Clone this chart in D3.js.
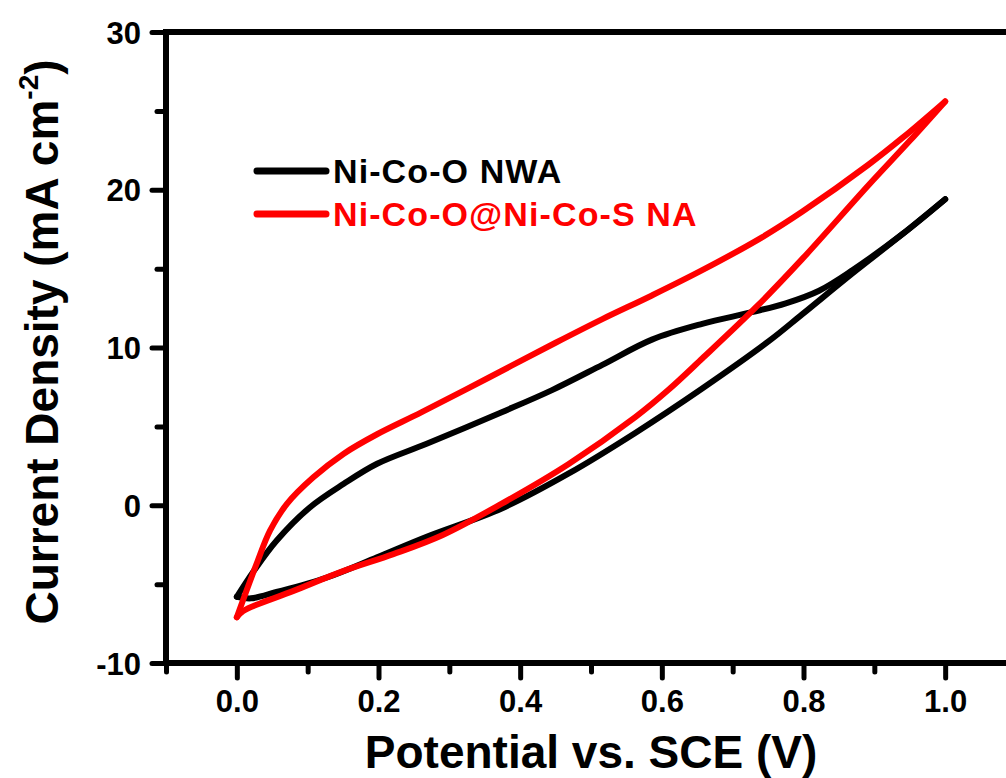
<!DOCTYPE html>
<html>
<head>
<meta charset="utf-8">
<script src="https://cdn.jsdelivr.net/npm/d3@7"></script>
<style>
  html, body { margin: 0; padding: 0; background: #fff; }
  svg text { font-family: "Liberation Sans", Arial, sans-serif; font-weight: bold; }
</style>
</head>
<body>
<svg id="chart" width="1006" height="778"></svg>
<script>
// ---- Data (Potential V, Current density mA cm^-2) ----
const seriesNames = ["Ni-Co-O NWA", "Ni-Co-O@Ni-Co-S NA"];
const seriesColors = ["#000000", "#ff0000"];

// Ni-Co-O NWA: forward (upper) branch
const nwaUpper = [
  [0.0, -5.8], [0.024, -4.16], [0.056, -2.25], [0.103, -0.14], [0.151, 1.36],
  [0.198, 2.63], [0.268, 3.9], [0.374, 5.9], [0.445, 7.3], [0.516, 8.9],
  [0.586, 10.5], [0.657, 11.5], [0.727, 12.24], [0.775, 12.8], [0.822, 13.6],
  [0.869, 14.9], [0.94, 17.2], [1.0, 19.4]
];
// Ni-Co-O NWA: reverse (lower) branch
const nwaLower = [
  [0.0, -5.8], [0.02, -5.9], [0.056, -5.5], [0.127, -4.58], [0.198, -3.3],
  [0.268, -2.0], [0.374, -0.2], [0.468, 2.0], [0.563, 4.6], [0.657, 7.4],
  [0.751, 10.4], [0.798, 12.1], [0.869, 14.7], [0.94, 17.2], [1.0, 19.4]
];
// Ni-Co-O@Ni-Co-S NA: forward (upper) branch
const naUpper = [
  [0.0, -7.1], [0.028, -3.7], [0.047, -1.6], [0.071, 0.1], [0.108, 1.77],
  [0.151, 3.27], [0.198, 4.5], [0.261, 5.9], [0.356, 8.1], [0.45, 10.3],
  [0.516, 11.8], [0.586, 13.3], [0.657, 14.9], [0.742, 17.0], [0.798, 18.6],
  [0.892, 21.6], [0.94, 23.3], [1.0, 25.6]
];
// Ni-Co-O@Ni-Co-S NA: reverse (lower) branch
const naLower = [
  [0.0, -7.1], [0.009, -6.7], [0.08, -5.43], [0.151, -4.16], [0.221, -3.1],
  [0.29, -1.9], [0.374, 0.1], [0.468, 2.6], [0.563, 5.6], [0.609, 7.3],
  [0.657, 9.3], [0.734, 12.6], [0.798, 15.6], [0.892, 20.3], [0.95, 23.1],
  [1.0, 25.6]
];

const xMajorTicks = [0.0, 0.2, 0.4, 0.6, 0.8, 1.0];
const xMinorTicks = [-0.1, 0.1, 0.3, 0.5, 0.7, 0.9, 1.1];
const yMajorTicks = [-10, 0, 10, 20, 30];
const yMinorTicks = [-5, 5, 15, 25];

// ---- Layout ----
const svg = d3.select("#chart");
const mLeft = 166, mRight = 1016, mTop = 32, mBottom = 663;

const x = d3.scaleLinear().domain([-0.1, 1.1]).range([mLeft, mRight]);
const y = d3.scaleLinear().domain([-10, 30]).range([mBottom, mTop]);

const axisStroke = 6;

// Ticks
const gx = svg.append("g").attr("transform", `translate(0,${mBottom})`);
gx.call(d3.axisBottom(x).tickValues(xMajorTicks).tickSize(15).tickSizeOuter(0)
  .tickFormat(d => d.toFixed(1)).tickPadding(12));
const gxm = svg.append("g").attr("transform", `translate(0,${mBottom})`);
gxm.call(d3.axisBottom(x).tickValues(xMinorTicks).tickSize(9).tickSizeOuter(0).tickFormat(""));

const gy = svg.append("g").attr("transform", `translate(${mLeft},0)`);
gy.call(d3.axisLeft(y).tickValues(yMajorTicks).tickSize(14).tickSizeOuter(0)
  .tickFormat(d => String(d)).tickPadding(11));
const gym = svg.append("g").attr("transform", `translate(${mLeft},0)`);
gym.call(d3.axisLeft(y).tickValues(yMinorTicks).tickSize(9).tickSizeOuter(0).tickFormat(""));

svg.selectAll(".domain").remove();
svg.selectAll(".tick line")
  .attr("stroke", "#000").attr("stroke-width", 5).attr("stroke-linecap", "round");
gx.selectAll(".tick text").attr("font-size", 31).attr("fill", "#000").attr("dy", "0.72em");
gy.selectAll(".tick text").attr("font-size", 31).attr("fill", "#000").attr("dy", "0.36em");

// Frame
const frame = svg.append("g").attr("stroke", "#000").attr("stroke-width", axisStroke)
  .attr("fill", "none").attr("stroke-linecap", "square");
frame.append("line").attr("x1", mLeft).attr("x2", mRight).attr("y1", mBottom).attr("y2", mBottom);
frame.append("line").attr("x1", mLeft).attr("x2", mLeft).attr("y1", mBottom).attr("y2", mTop);
frame.append("line").attr("x1", mLeft).attr("x2", mRight).attr("y1", mTop).attr("y2", mTop);
frame.append("line").attr("x1", mRight).attr("x2", mRight).attr("y1", mBottom).attr("y2", mTop);

// Curves
const line = d3.line().x(d => x(d[0])).y(d => y(d[1])).curve(d3.curveCatmullRom.alpha(0.5));
const curves = [
  { data: nwaUpper, c: 0 }, { data: nwaLower, c: 0 },
  { data: naUpper, c: 1 }, { data: naLower, c: 1 }
];
svg.append("g").selectAll("path").data(curves).join("path")
  .attr("d", d => line(d.data))
  .attr("fill", "none")
  .attr("stroke", d => seriesColors[d.c])
  .attr("stroke-width", 6)
  .attr("stroke-linecap", "round")
  .attr("stroke-linejoin", "round");

// Legend
const legendY = [171, 214];
const lg = svg.append("g");
seriesNames.forEach((name, i) => {
  lg.append("line").attr("x1", 257).attr("x2", 326)
    .attr("y1", legendY[i]).attr("y2", legendY[i])
    .attr("stroke", seriesColors[i]).attr("stroke-width", 7).attr("stroke-linecap", "round");
  lg.append("text").attr("x", 333).attr("y", legendY[i] + 12)
    .attr("font-size", 34).attr("letter-spacing", 1.1)
    .attr("fill", seriesColors[i]).text(name);
});

// Axis titles
svg.append("text")
  .attr("x", (mLeft + mRight) / 2).attr("y", 768)
  .attr("text-anchor", "middle").attr("font-size", 46).attr("fill", "#000")
  .text("Potential vs. SCE (V)");

const yt = svg.append("text")
  .attr("transform", `translate(58,${342}) rotate(-90)`)
  .attr("text-anchor", "middle").attr("font-size", 46).attr("fill", "#000");
yt.append("tspan").text("Current Density (mA cm");
yt.append("tspan").attr("font-size", 28).attr("dy", -20).text("-2");
yt.append("tspan").attr("dy", 20).text(")");
</script>
</body>
</html>
